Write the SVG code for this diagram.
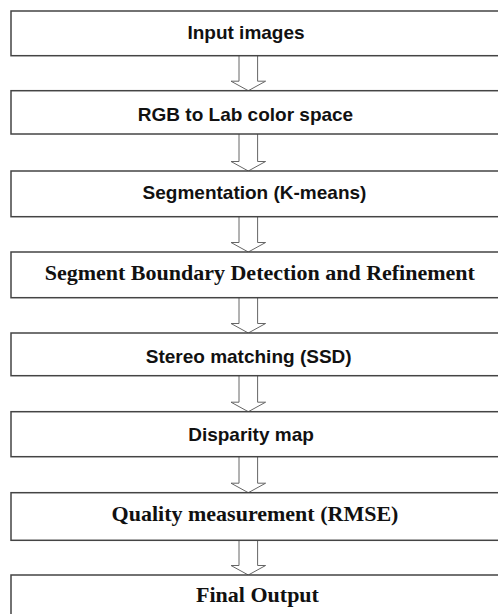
<svg xmlns="http://www.w3.org/2000/svg" width="498" height="614" viewBox="0 0 498 614">
<style>
.box{fill:#fff;stroke:#444;stroke-width:1.5}
.arr{fill:#fff;stroke:#666;stroke-width:1}
.s{font-family:"Liberation Sans",Arial,sans-serif;font-weight:bold;font-size:19px;fill:#111;text-anchor:middle}
.t{font-family:"Liberation Serif","Times New Roman",serif;font-weight:bold;font-size:22px;fill:#111;text-anchor:middle}
</style>
<rect width="498" height="614" fill="#fff"/>
<g id="connectors">
<path class="arr" d="M239,55.7 V81.2 H231 L248.3,90.7 L265.6,81.2 H257.6 V55.7"/>
<path class="arr" d="M239,134 V161.5 H231 L248.3,171 L265.6,161.5 H257.6 V134"/>
<path class="arr" d="M239,216.7 V242.5 H231 L248.3,252 L265.6,242.5 H257.6 V216.7"/>
<path class="arr" d="M239,297.7 V323.5 H231 L248.3,333 L265.6,323.5 H257.6 V297.7"/>
<path class="arr" d="M239,375.7 V402.2 H231 L248.3,411.7 L265.6,402.2 H257.6 V375.7"/>
<path class="arr" d="M239,456.7 V483.2 H231 L248.3,492.7 L265.6,483.2 H257.6 V456.7"/>
<path class="arr" d="M239,540.3 V565.5 H231 L248.3,575 L265.6,565.5 H257.6 V540.3"/>
</g>
<g id="n1"><rect class="box" x="11" y="11" width="500" height="44.7"/><text class="s" x="246" y="39.3">Input images</text></g>
<g id="n2"><rect class="box" x="11" y="90.7" width="500" height="43.3"/><text class="s" x="245.5" y="120.8">RGB to Lab color space</text></g>
<g id="n3"><rect class="box" x="11" y="171" width="500" height="45.7"/><text class="s" x="254.5" y="199.3">Segmentation (K-means)</text></g>
<g id="n4"><rect class="box" x="11" y="252" width="500" height="45.7"/><text class="t" x="259.8" y="280">Segment Boundary Detection and Refinement</text></g>
<g id="n5"><rect class="box" x="11" y="333" width="500" height="42.7"/><text class="s" x="248.7" y="362.8">Stereo matching (SSD)</text></g>
<g id="n6"><rect class="box" x="11" y="411.7" width="500" height="45"/><text class="s" x="251" y="440.8">Disparity map</text></g>
<g id="n7"><rect class="box" x="11" y="492.7" width="500" height="47.6"/><text class="t" x="255" y="520.7">Quality measurement (RMSE)</text></g>
<g id="n8"><rect class="box" x="11" y="575" width="500" height="60"/><text class="t" x="257.5" y="601.7">Final Output</text></g>
</svg>
